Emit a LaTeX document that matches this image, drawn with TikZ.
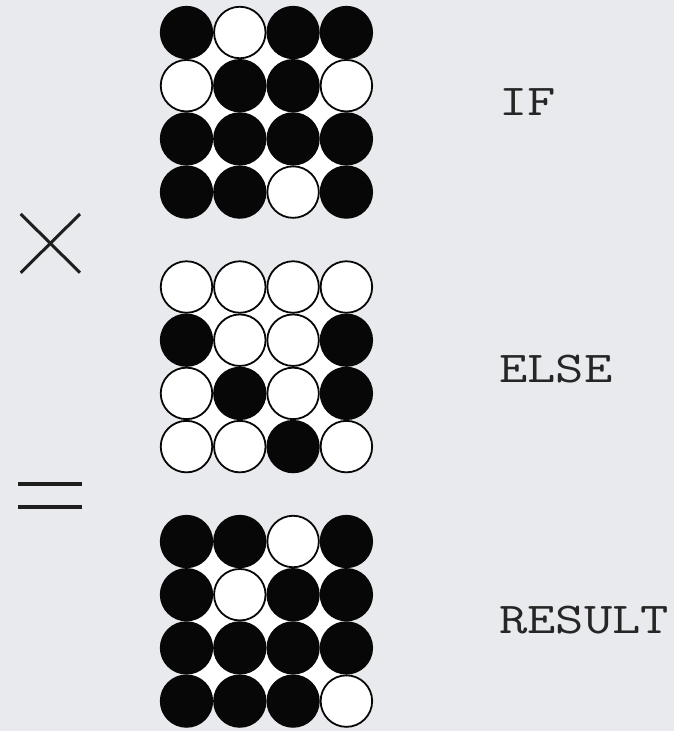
\documentclass[tikz,border=0pt]{standalone}
\usepackage{graphicx}
\definecolor{bg}{HTML}{E9EAEE}
\definecolor{ink}{HTML}{070707}
\definecolor{opink}{HTML}{1E1E1E}
\newcommand\drawdotgrid[3]{%
  \fill[white] (186.5,#2) rectangle (346.4,#2+159.6);
  \foreach \v [count=\i from 0] in {#3} {
    \pgfmathtruncatemacro\cc{mod(\i,4)}
    \pgfmathtruncatemacro\rr{div(\i,4)}
    \node[s\v] (#1-\rr-\cc) at (186.5+53.3*\cc, #2+53.2*\rr) {};
  }}
\newcommand\widemono[1]{\scalebox{1.25}[1]{\ttfamily\fontsize{44}{44}\selectfont #1}}
\begin{document}
\begin{tikzpicture}[x=1pt,y=-1pt,
  dot/.style={circle, draw=ink, line width=1.8pt, minimum size=51.5pt, inner sep=0pt},
  s0/.style={dot, fill=white},
  s1/.style={dot, fill=ink},
  lbl/.style={anchor=base west, inner sep=0pt, text=black!85},
  op/.style={line width=3pt, draw=opink}]
\fill[bg] (0,0) rectangle (674,731);
\useasboundingbox (0,0) rectangle (674,731);
% IF grid
\drawdotgrid{gif}{32.5}{1,0,1,1, 0,1,1,0, 1,1,1,1, 1,1,0,1}
% ELSE grid
\drawdotgrid{gelse}{287}{0,0,0,0, 1,0,0,1, 0,1,0,1, 0,0,1,0}
% RESULT grid
\drawdotgrid{gres}{541.5}{1,1,0,1, 1,0,1,1, 1,1,1,1, 1,1,1,0}
% operators
\draw[op] (20.7,214) -- (80,272.7);
\draw[op] (80,214) -- (20.7,272.7);
\draw[op, line width=3.6pt] (18,484) -- (82,484);
\draw[op, line width=3.6pt] (18,506.7) -- (82,506.7);
% labels
\node[lbl] (lif) at (499,115) {\widemono{IF}};
\node[lbl] (lelse) at (499,382) {\widemono{ELSE}};
\node[lbl] (lres) at (499,633) {\widemono{RESULT}};
\end{tikzpicture}
\end{document}
